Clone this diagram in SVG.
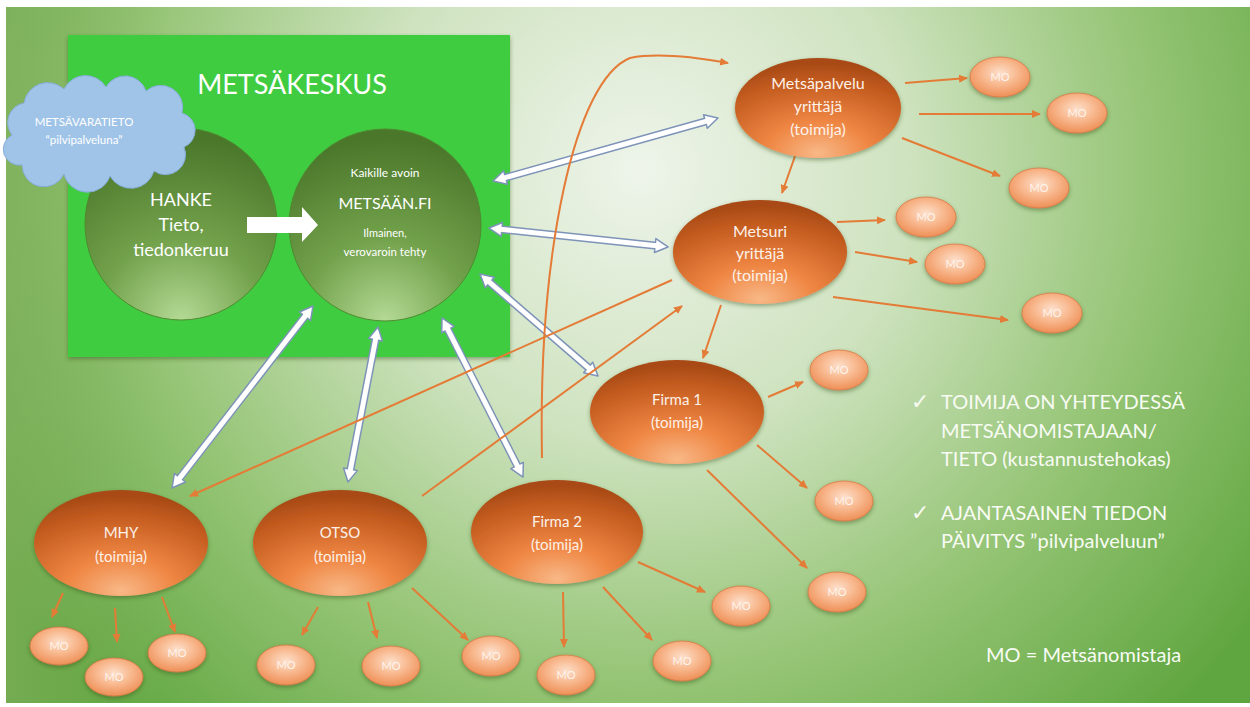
<svg xmlns="http://www.w3.org/2000/svg" width="1250" height="707" viewBox="0 0 1250 707">
<style>
.lbl{font-family:Lato,"Open Sans","Liberation Sans",sans-serif;fill:#fdf1e8;text-anchor:middle}
.wt{font-family:Lato,"Open Sans","Liberation Sans",sans-serif;fill:#ffffff;text-anchor:middle}
.side{font-family:Lato,"Open Sans","Liberation Sans",sans-serif;fill:#f8fbf4;font-size:20px}
.chk{font-family:"DejaVu Sans",sans-serif;fill:#f8fbf4;font-size:22px}
.toim{fill:url(#og);filter:url(#sh)}
.mo{fill:url(#mg);stroke:#d77a45;stroke-width:0.8;filter:url(#sh)}
.mot{font-family:Lato,"Open Sans","Liberation Sans",sans-serif;fill:#fff4ec;font-size:11px;text-anchor:middle}
.oa{stroke:#e47b36;stroke-width:2;fill:none;marker-end:url(#oh)}
.wo{stroke:#7d93b8;stroke-width:8;marker-start:url(#wh);marker-end:url(#wh)}
.wi{stroke:#ffffff;stroke-width:5}
</style>
<defs>
<radialGradient id="bg" cx="640" cy="170" r="760" gradientUnits="userSpaceOnUse">
<stop offset="0" stop-color="#eef4ea"/>
<stop offset="0.35" stop-color="#cfe3c0"/>
<stop offset="0.68" stop-color="#94c474"/>
<stop offset="1" stop-color="#60a640"/>
</radialGradient>
<linearGradient id="lw" x1="0" y1="0" x2="1" y2="0">
<stop offset="0" stop-color="#86b060" stop-opacity="0.55"/>
<stop offset="1" stop-color="#86b060" stop-opacity="0"/>
</linearGradient>
<radialGradient id="cg" cx="0.5" cy="1" r="0.95">
<stop offset="0" stop-color="#b4da95"/>
<stop offset="0.45" stop-color="#73a24c"/>
<stop offset="1" stop-color="#4a772a"/>
</radialGradient>
<radialGradient id="og" cx="0.5" cy="0.95" r="0.9">
<stop offset="0" stop-color="#f8b887"/>
<stop offset="0.35" stop-color="#ef8643"/>
<stop offset="0.8" stop-color="#c35b1f"/>
<stop offset="1" stop-color="#a84a16"/>
</radialGradient>
<radialGradient id="mg" cx="0.5" cy="0.4" r="0.6">
<stop offset="0" stop-color="#fde0cc"/>
<stop offset="0.5" stop-color="#f8b88e"/>
<stop offset="1" stop-color="#ee8f57"/>
</radialGradient>
<filter id="sh" x="-20%" y="-20%" width="140%" height="150%">
<feDropShadow dx="0" dy="2" stdDeviation="2" flood-color="#2d4a1a" flood-opacity="0.45"/>
</filter>
<marker id="oh" markerUnits="userSpaceOnUse" viewBox="0 -5 10 10" markerWidth="10" markerHeight="10" refX="8" refY="0" orient="auto">
<path d="M0,-4 L9,0 L0,4 z" fill="#e47b36"/>
</marker>
<marker id="wh" markerUnits="userSpaceOnUse" viewBox="-1 -9 16 18" markerWidth="16" markerHeight="18" refX="4" refY="0" orient="auto-start-reverse">
<path d="M0,-7 L13,0 L0,7 z" fill="#ffffff" stroke="#7d93b8" stroke-width="1.5" stroke-linejoin="round"/>
</marker>
</defs>
<rect x="0" y="0" width="1250" height="707" fill="#ffffff"/>
<rect x="6" y="7" width="1244" height="696" fill="url(#bg)"/>
<rect x="6" y="7" width="160" height="696" fill="url(#lw)"/>

<g id="metsakeskus">
<rect x="68" y="35" width="442" height="322" fill="#40cc40" filter="url(#sh)"/>
<text class="wt" x="292" y="94" font-size="27">METSÄKESKUS</text>
</g>

<g id="hanke">
<circle cx="181" cy="224" r="96" fill="url(#cg)" stroke="#4e8a30" stroke-width="1"/>
<text class="wt" x="181" y="206" font-size="18">HANKE</text>
<text class="wt" x="181" y="231" font-size="18">Tieto,</text>
<text class="wt" x="181" y="256" font-size="18">tiedonkeruu</text>
</g>

<g id="metsaan">
<circle cx="385" cy="225" r="96" fill="url(#cg)" stroke="#4e8a30" stroke-width="1"/>
<text class="wt" x="385" y="177" font-size="12">Kaikille avoin</text>
<text class="wt" x="385" y="209" font-size="16">METSÄÄN.FI</text>
<text class="wt" x="385" y="237" font-size="11">Ilmainen,</text>
<text class="wt" x="385" y="256" font-size="11.5">verovaroin tehty</text>
</g>

<g id="pilvi">
<path d="M22 165 a16 16 0 0 1 -10 -30 a20 20 0 0 1 12 -32 a24 24 0 0 1 40 -14 a24 24 0 0 1 42 -2 a22 22 0 0 1 40 4 a22 22 0 0 1 36 22 a18 18 0 0 1 2 34 a20 20 0 0 1 -30 24 a24 24 0 0 1 -44 5 a24 24 0 0 1 -46 -2 a22 22 0 0 1 -42 -9 z" fill="#9fc4e8" stroke="#86acd6" stroke-width="1"/>
<text class="wt" x="84" y="126" font-size="11.5">METSÄVARATIETO</text>
<text class="wt" x="84" y="144" font-size="11.5">“pilvipalveluna”</text>
</g>

<g id="connectors">
<path d="M247 217 H302 V207 L318 225 L302 242 V233 H247 z" fill="#ffffff"/>
<line class="wo" x1="501.7" y1="178.6" x2="709.3" y2="120.4"/>
<line class="wi" x1="501.7" y1="178.6" x2="709.3" y2="120.4"/>
<line class="wo" x1="497.9" y1="229" x2="659.1" y2="246"/>
<line class="wi" x1="497.9" y1="229" x2="659.1" y2="246"/>
<line class="wo" x1="486.8" y1="279.9" x2="591.2" y2="370.1"/>
<line class="wi" x1="486.8" y1="279.9" x2="591.2" y2="370.1"/>
<line class="wo" x1="446.1" y1="326" x2="518.9" y2="469"/>
<line class="wi" x1="446.1" y1="326" x2="518.9" y2="469"/>
<line class="wo" x1="376.3" y1="335.8" x2="349.7" y2="473.2"/>
<line class="wi" x1="376.3" y1="335.8" x2="349.7" y2="473.2"/>
<line class="wo" x1="307.5" y1="313.1" x2="177.5" y2="480.9"/>
<line class="wi" x1="307.5" y1="313.1" x2="177.5" y2="480.9"/>

<path class="oa" d="M672 280 L190 496"/>
<path class="oa" d="M422 496 L682 306"/>
<path class="oa" d="M542 458 C538 250 575 80 630 58 C660 52 700 58 728 63"/>
<path class="oa" d="M905 83 L967 78"/>
<path class="oa" d="M919 114 L1040 114"/>
<path class="oa" d="M902 138 L1000 176"/>
<path class="oa" d="M800 142 L782 193"/>
<path class="oa" d="M837 222 L885 220"/>
<path class="oa" d="M855 252 L917 262"/>
<path class="oa" d="M833 297 L1008 320"/>
<path class="oa" d="M721 305 L703 358"/>
<path class="oa" d="M768 397 L803 382"/>
<path class="oa" d="M757 445 L807 488"/>
<path class="oa" d="M707 470 L807 568"/>
<path class="oa" d="M638 562 L705 592"/>
<path class="oa" d="M603 587 L652 640"/>
<path class="oa" d="M563 592 L564 647"/>
<path class="oa" d="M412 588 L468 640"/>
<path class="oa" d="M318 607 L302 635"/>
<path class="oa" d="M368 602 L377 638"/>
<path class="oa" d="M63 593 L52 617"/>
<path class="oa" d="M115 608 L117 642"/>
<path class="oa" d="M162 597 L175 632"/>
</g>

<g id="metsapalvelu">
<ellipse class="toim" cx="818" cy="108" rx="83" ry="50"/>
<text class="lbl" x="818" y="89" font-size="16">Metsäpalvelu</text>
<text class="lbl" x="818" y="112" font-size="16">yrittäjä</text>
<text class="lbl" x="818" y="135" font-size="16">(toimija)</text>
</g>
<g id="metsuri">
<ellipse class="toim" cx="760" cy="252" rx="87" ry="52"/>
<text class="lbl" x="760" y="237" font-size="16">Metsuri</text>
<text class="lbl" x="760" y="259" font-size="16">yrittäjä</text>
<text class="lbl" x="760" y="281" font-size="16">(toimija)</text>
</g>
<g id="firma1">
<ellipse class="toim" cx="677" cy="412" rx="87" ry="52"/>
<text class="lbl" x="677" y="405" font-size="15">Firma 1</text>
<text class="lbl" x="677" y="428" font-size="15">(toimija)</text>
</g>
<g id="firma2">
<ellipse class="toim" cx="557" cy="532" rx="86" ry="52"/>
<text class="lbl" x="557" y="527" font-size="15">Firma 2</text>
<text class="lbl" x="557" y="550" font-size="15">(toimija)</text>
</g>
<g id="mhy">
<ellipse class="toim" cx="121" cy="543" rx="87" ry="53"/>
<text class="lbl" x="121" y="538" font-size="15">MHY</text>
<text class="lbl" x="121" y="562" font-size="15">(toimija)</text>
</g>
<g id="otso">
<ellipse class="toim" cx="340" cy="543" rx="87" ry="53"/>
<text class="lbl" x="340" y="538" font-size="15">OTSO</text>
<text class="lbl" x="340" y="562" font-size="15">(toimija)</text>
</g>

<g id="mo1"><ellipse class="mo" cx="1000" cy="77" rx="30" ry="20"/><text class="mot" x="1000" y="81">MO</text></g>
<g id="mo2"><ellipse class="mo" cx="1077" cy="113" rx="30" ry="20"/><text class="mot" x="1077" y="117">MO</text></g>
<g id="mo3"><ellipse class="mo" cx="1039" cy="188" rx="30" ry="20"/><text class="mot" x="1039" y="192">MO</text></g>
<g id="mo4"><ellipse class="mo" cx="926" cy="217" rx="30" ry="20"/><text class="mot" x="926" y="221">MO</text></g>
<g id="mo5"><ellipse class="mo" cx="955" cy="264" rx="30" ry="20"/><text class="mot" x="955" y="268">MO</text></g>
<g id="mo6"><ellipse class="mo" cx="1052" cy="313" rx="30" ry="20"/><text class="mot" x="1052" y="317">MO</text></g>
<g id="mo7"><ellipse class="mo" cx="839" cy="370" rx="29" ry="20"/><text class="mot" x="839" y="374">MO</text></g>
<g id="mo8"><ellipse class="mo" cx="844" cy="501" rx="29" ry="20"/><text class="mot" x="844" y="505">MO</text></g>
<g id="mo9"><ellipse class="mo" cx="837" cy="592" rx="29" ry="20"/><text class="mot" x="837" y="596">MO</text></g>
<g id="mo10"><ellipse class="mo" cx="741" cy="606" rx="29" ry="20"/><text class="mot" x="741" y="610">MO</text></g>
<g id="mo11"><ellipse class="mo" cx="682" cy="661" rx="29" ry="20"/><text class="mot" x="682" y="665">MO</text></g>
<g id="mo12"><ellipse class="mo" cx="566" cy="675" rx="29" ry="20"/><text class="mot" x="566" y="679">MO</text></g>
<g id="mo13"><ellipse class="mo" cx="491" cy="656" rx="29" ry="20"/><text class="mot" x="491" y="660">MO</text></g>
<g id="mo14"><ellipse class="mo" cx="59" cy="646" rx="29" ry="19"/><text class="mot" x="59" y="650">MO</text></g>
<g id="mo15"><ellipse class="mo" cx="114" cy="677" rx="29" ry="19"/><text class="mot" x="114" y="681">MO</text></g>
<g id="mo16"><ellipse class="mo" cx="177" cy="653" rx="29" ry="19"/><text class="mot" x="177" y="657">MO</text></g>
<g id="mo17"><ellipse class="mo" cx="286" cy="665" rx="29" ry="20"/><text class="mot" x="286" y="669">MO</text></g>
<g id="mo18"><ellipse class="mo" cx="391" cy="666" rx="29" ry="20"/><text class="mot" x="391" y="670">MO</text></g>

<g id="notes">
<text class="chk" x="911" y="409">✓</text>
<text class="side" x="941" y="409">TOIMIJA ON YHTEYDESSÄ</text>
<text class="side" x="941" y="438">METSÄNOMISTAJAAN/</text>
<text class="side" x="941" y="466">TIETO (kustannustehokas)</text>
<text class="chk" x="911" y="520">✓</text>
<text class="side" x="941" y="520">AJANTASAINEN TIEDON</text>
<text class="side" x="941" y="548">PÄIVITYS ”pilvipalveluun”</text>
<text class="side" x="986" y="662" font-size="22.5px">MO = Metsänomistaja</text>
</g>
</svg>
